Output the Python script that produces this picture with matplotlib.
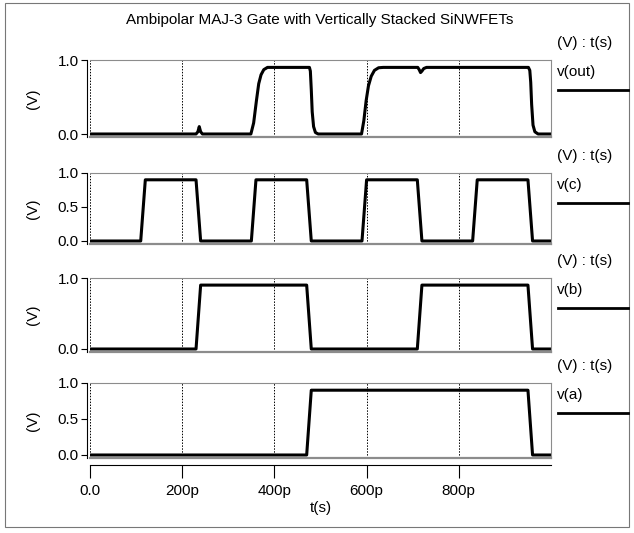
import matplotlib
matplotlib.use("Agg")
import matplotlib.pyplot as plt
from matplotlib.patches import Rectangle

plt.rcParams["font.family"] = ["Liberation Sans", "DejaVu Sans"]
plt.rcParams["font.size"] = 11

# times in ps
t_a = [0, 470, 480, 950, 960, 1000]
v_a = [0, 0, 0.9, 0.9, 0, 0]

t_b = [0, 230, 240, 470, 480, 710, 720, 950, 960, 1000]
v_b = [0, 0, 0.9, 0.9, 0, 0, 0.9, 0.9, 0, 0]

t_c = [0, 110, 120, 230, 240, 350, 360, 470, 480, 590, 600, 710, 720,
       830, 840, 950, 960, 1000]
v_c = [0, 0, 0.9, 0.9, 0, 0, 0.9, 0.9, 0, 0, 0.9, 0.9, 0, 0, 0.9, 0.9, 0, 0]

t_out = [0, 230, 234, 237, 240, 244, 349, 355, 361, 366, 371, 377, 385,
         476, 478, 480, 482, 485, 489, 495, 589, 594, 599, 604, 610, 617,
         626, 636, 711, 714, 717, 720, 724, 730, 951, 954, 956, 958, 961,
         965, 972, 1000]
v_out = [0, 0, 0.03, 0.10, 0.03, 0, 0, 0.15, 0.45, 0.68, 0.80, 0.87, 0.90,
         0.90, 0.85, 0.60, 0.30, 0.10, 0.02, 0, 0, 0.18, 0.45, 0.65, 0.78,
         0.86, 0.895, 0.90, 0.90, 0.87, 0.83, 0.85, 0.885, 0.90, 0.90, 0.86,
         0.70, 0.40, 0.12, 0.03, 0, 0]

signals = [("v(out)", t_out, v_out, [0.0, 1.0]),
           ("v(c)", t_c, v_c, [0.0, 0.5, 1.0]),
           ("v(b)", t_b, v_b, [0.0, 1.0]),
           ("v(a)", t_a, v_a, [0.0, 0.5, 1.0])]

x_ticks = [0, 200, 400, 600, 800]
x_tick_labels = ["0.0", "200p", "400p", "600p", "800p"]
title = "Ambipolar MAJ-3 Gate with Vertically Stacked SiNWFETs"

W, H = 634, 533
fig = plt.figure(figsize=(W / 100, H / 100), dpi=100)

# pixel positions of the 1.0 and 0.0 levels for each panel
levels_px = [(60, 134), (173, 241), (278, 349), (383, 455)]
ymin = -0.04
ax_left, ax_right = 90, 551
gray = "#8c8c8c"

fig.patches.append(Rectangle((5 / W, 1 - 527 / H), 624 / W, 524 / H,
                             transform=fig.transFigure, fill=False,
                             edgecolor="#777777", lw=0.8))

for i, (name, t, v, yt) in enumerate(signals):
    top, zero = levels_px[i]
    scale = zero - top
    bottom = zero - ymin * scale
    ax = fig.add_axes([ax_left / W, 1 - bottom / H,
                       (ax_right - ax_left) / W, (bottom - top) / H])
    ax.plot(t, v, color="black", lw=2.2, solid_joinstyle="round")
    ax.set_xlim(0, 1000)
    ax.set_ylim(ymin, 1.0)
    for xt in x_ticks:
        ax.axvline(xt, color="black", lw=0.7, ls=(0, (1.5, 1.5)), zorder=0)

    for s in ["top", "right"]:
        ax.spines[s].set_color(gray)
        ax.spines[s].set_linewidth(0.8)
    ax.spines["left"].set_position(("outward", 2))
    ax.spines["left"].set_color("black")
    ax.spines["left"].set_linewidth(0.8)
    ax.spines["bottom"].set_color(gray)
    ax.spines["bottom"].set_linewidth(1.6)

    ax.set_yticks(yt)
    ax.set_yticklabels([f"{y:.1f}" for y in yt])
    ax.tick_params(axis="y", direction="out", length=4, width=0.8, pad=2,
                   labelsize=11)
    ax.set_ylabel("(V)", fontsize=11, labelpad=13)

    if i == len(signals) - 1:
        ax.plot([0, 1], [0, 0], transform=ax.transAxes, color=gray, lw=1.6,
                clip_on=False)
        ax.spines["bottom"].set_position(("outward", 5))
        ax.spines["bottom"].set_color("black")
        ax.spines["bottom"].set_linewidth(0.8)
        ax.set_xticks(x_ticks)
        ax.set_xticklabels(x_tick_labels)
        ax.tick_params(axis="x", direction="out", length=9, width=0.8,
                       pad=5, labelsize=11)
        ax.set_xlabel("t(s)", fontsize=11, labelpad=2)
    else:
        ax.set_xticks([])

    # legend-like labels on the right
    fig.text(557 / W, 1 - (top - 17) / H, "(V) : t(s)", fontsize=11,
             va="center", ha="left")
    fig.text(557 / W, 1 - (top + 12) / H, name, fontsize=11,
             va="center", ha="left")
    fig.add_artist(plt.Line2D([558 / W, 628 / W],
                              [1 - (top + 30) / H, 1 - (top + 30) / H],
                              transform=fig.transFigure, color="black",
                              lw=2.0))

fig.text(320 / W, 1 - 20 / H, title, fontsize=11, ha="center", va="center")

fig.savefig("out.png", dpi=100)
